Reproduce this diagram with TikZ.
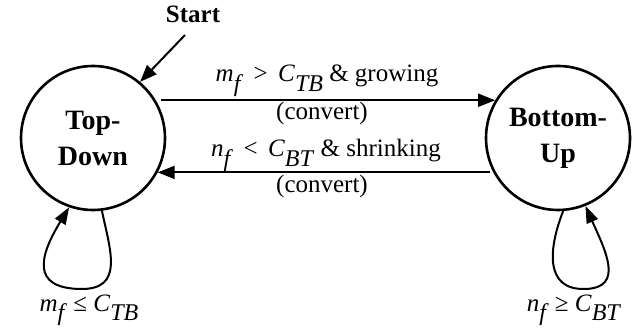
\documentclass[tikz,border=0pt]{standalone}
\usepackage{fontspec}
\setmainfont{Liberation Serif}
\usetikzlibrary{arrows.meta}
\newcommand{\lowsub}[1]{\raisebox{-0.38em}{\fontsize{24}{24}\selectfont\textit{#1}}}
\begin{document}
\begin{tikzpicture}[x=1pt,y=-1pt,
  state/.style={draw,circle,line width=2.6pt,minimum size=144pt,inner sep=0pt,align=center,font=\fontsize{28}{36}\selectfont\bfseries},
  lbl/.style={anchor=base,inner sep=0pt,font=\fontsize{25}{30}\selectfont},
  conn/.style={line width=2pt,-{Triangle[length=17pt,width=13pt]}},
  loop/.style={line width=2pt,-{Triangle[length=17pt,width=12pt]}}]
\useasboundingbox (0,0) rectangle (632,331);
\node[state] (td) at (93,138) {Top-\\Down};
\node[state] (bu) at (558,138) {Bottom-\\Up};
\node[lbl,font=\fontsize{25}{30}\selectfont\bfseries] (start) at (193,23) {Start};
\coordinate (s0) at (185,35);
\draw[conn] (s0) -- (td.50);
\draw[conn,shorten <=5pt] (td.31) -- (bu.149);
\draw[conn,shorten <=3pt] (bu.-152) -- (td.-28);
\node[lbl] (l1) at (327,82) {\textit{m}\lowsub{f} \,>\, \textit{C}\lowsub{TB} \& growing};
\node[lbl] (l2) at (322,120) {(convert)};
\node[lbl] (l3) at (326,157) {\textit{n}\lowsub{f} \,<\, \textit{C}\lowsub{BT} \& shrinking};
\node[lbl] (l4) at (322,193) {(convert)};
\draw[loop] (td.-83) .. controls (110,250) and (125,290) .. (80,289)
  .. controls (30,288) and (40,255) .. (td.-109);
\draw[loop] (bu.-86) .. controls (548,250) and (545,290) .. (585,289)
  .. controls (625,288) and (605,250) .. (bu.-68);
\node[lbl] (l5) at (89,311) {\textit{m}\lowsub{f} ≤ \textit{C}\lowsub{TB}};
\node[lbl] (l6) at (574,311) {\textit{n}\lowsub{f} ≥ \textit{C}\lowsub{BT}};
\end{tikzpicture}
\end{document}
